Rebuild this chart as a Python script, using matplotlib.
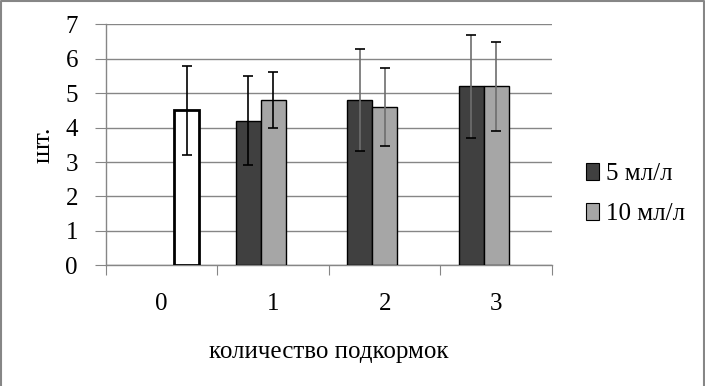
import numpy as np
import matplotlib.pyplot as plt
from matplotlib.patches import Patch
from matplotlib.lines import Line2D

plt.rcParams['font.family'] = ['Liberation Serif', 'DejaVu Serif']

categories = ['0', '1', '2', '3']
control = [4.5, np.nan, np.nan, np.nan]
control_err = [1.3, 0, 0, 0]
dose5 = [np.nan, 4.2, 4.8, 5.2]
dose5_err = [0, 1.3, 1.47, 1.5]
dose10 = [np.nan, 4.8, 4.6, 5.2]
dose10_err = [0, 0.82, 1.13, 1.3]
err_colours = ['black', 'black', '#6e6e6e', '#6e6e6e']

dark = '#404040'
light = '#a6a6a6'
grid = '#868686'

fig = plt.figure(figsize=(7.05, 3.86), dpi=100)
ax = fig.add_axes([0.150, 0.3127, 0.633, 0.6243])

x = np.arange(len(categories))
w = 0.224

ax.bar(x - w, dose5, w, color=dark, edgecolor='black', linewidth=1, zorder=3)
ax.bar(x, dose10, w, color=light, edgecolor='black', linewidth=1, zorder=3)
ax.bar(x + w, control, w, color='white', edgecolor='black', linewidth=2, zorder=3)

# error bars, one call per bar so colours can differ; caps stay black
for i in range(len(categories)):
    for xs, ys, es in [(x[i] - w, dose5[i], dose5_err[i]),
                       (x[i], dose10[i], dose10_err[i]),
                       (x[i] + w, control[i], control_err[i])]:
        if np.isnan(ys):
            continue
        ax.errorbar(xs, ys, yerr=es, fmt='none', ecolor=err_colours[i],
                    elinewidth=1.2, capsize=0, zorder=4)
        ax.errorbar(xs, ys, yerr=es, fmt='none', ecolor='black',
                    elinewidth=0, capsize=3.6, capthick=1.2, zorder=4)

ax.set_xlim(-0.5, 3.5)
ax.set_ylim(0, 7)
ax.set_yticks(range(8))
ax.yaxis.grid(True, color=grid, linewidth=1)
ax.set_axisbelow(True)

ax.set_xticks(np.arange(-0.5, 4, 1))
ax.set_xticklabels([])
ax.set_xticks(x, minor=True)
ax.set_xticklabels(categories, minor=True, fontsize=18)
ax.tick_params(axis='x', which='major', length=7, color=grid, direction='out')
ax.tick_params(axis='x', which='minor', length=0, pad=20)
ax.tick_params(axis='y', length=8, color=grid, direction='out', labelsize=18, pad=12)

for s in ['top', 'right']:
    ax.spines[s].set_visible(False)
for s in ['left', 'bottom']:
    ax.spines[s].set_color(grid)
    ax.spines[s].set_linewidth(1)

ax.set_ylabel('шт.', fontsize=19, labelpad=8)
ax.set_xlabel('количество подкормок', fontsize=18, labelpad=19)

handles = [Patch(facecolor=dark, edgecolor='black', linewidth=0.8, label='5 мл/л'),
           Patch(facecolor=light, edgecolor='black', linewidth=0.8, label='10 мл/л')]
fig.legend(handles=handles, loc='center left', bbox_to_anchor=(0.813, 0.497),
           frameon=False, fontsize=18, handlelength=0.55, handleheight=0.7,
           handletextpad=0.25, labelspacing=0.7, borderpad=0)

# outer chart frame
fig.add_artist(Line2D([0.0015, 0.0015, 0.9985, 0.9985], [0.0, 0.997, 0.997, 0.0],
                      transform=fig.transFigure, color='#868686', linewidth=1.5))

fig.savefig('out.png', dpi=100)
